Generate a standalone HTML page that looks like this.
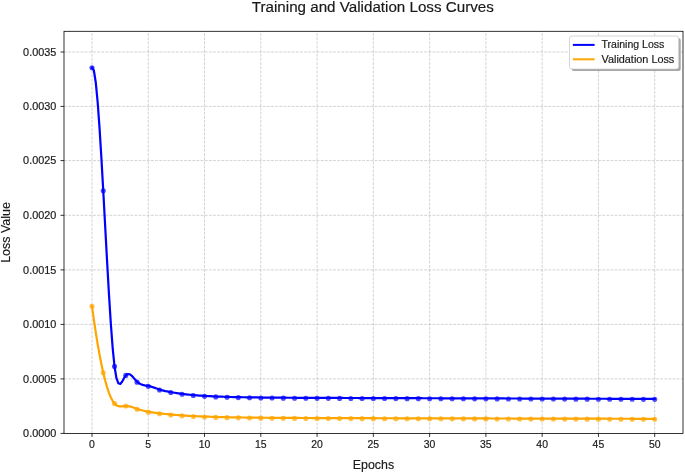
<!DOCTYPE html><html><head><meta charset="utf-8"><style>html,body{margin:0;padding:0;background:#fff;}svg{display:block;}text{font-family:"Liberation Sans",sans-serif;fill:#1a1a1a;stroke:#1a1a1a;stroke-width:0.18px;}svg{will-change:transform;}</style></head><body>
<svg width="685" height="472" viewBox="0 0 685 472">
<rect width="685" height="472" fill="#fff"/>
<g stroke="#b0b0b0" stroke-opacity="0.7" stroke-width="0.8" stroke-dasharray="2.89 1.25" fill="none"><line x1="92.00" y1="433.4" x2="92.00" y2="31.3"/><line x1="148.27" y1="433.4" x2="148.27" y2="31.3"/><line x1="204.54" y1="433.4" x2="204.54" y2="31.3"/><line x1="260.81" y1="433.4" x2="260.81" y2="31.3"/><line x1="317.08" y1="433.4" x2="317.08" y2="31.3"/><line x1="373.35" y1="433.4" x2="373.35" y2="31.3"/><line x1="429.62" y1="433.4" x2="429.62" y2="31.3"/><line x1="485.89" y1="433.4" x2="485.89" y2="31.3"/><line x1="542.16" y1="433.4" x2="542.16" y2="31.3"/><line x1="598.43" y1="433.4" x2="598.43" y2="31.3"/><line x1="654.70" y1="433.4" x2="654.70" y2="31.3"/><line x1="64.0" y1="378.9" x2="683.0" y2="378.9"/><line x1="64.0" y1="324.4" x2="683.0" y2="324.4"/><line x1="64.0" y1="269.9" x2="683.0" y2="269.9"/><line x1="64.0" y1="215.3" x2="683.0" y2="215.3"/><line x1="64.0" y1="160.6" x2="683.0" y2="160.6"/><line x1="64.0" y1="106.4" x2="683.0" y2="106.4"/><line x1="64.0" y1="52.0" x2="683.0" y2="52.0"/></g>
<g fill="#0000ff" fill-opacity="0.7"><circle cx="92.00" cy="67.70" r="2.55"/><circle cx="103.25" cy="190.85" r="2.55"/><circle cx="114.51" cy="366.40" r="2.55"/><circle cx="125.76" cy="375.40" r="2.55"/><circle cx="137.02" cy="382.15" r="2.55"/><circle cx="148.27" cy="386.35" r="2.55"/><circle cx="159.52" cy="389.97" r="2.55"/><circle cx="170.78" cy="392.54" r="2.55"/><circle cx="182.03" cy="394.30" r="2.55"/><circle cx="193.29" cy="395.50" r="2.55"/><circle cx="204.54" cy="396.33" r="2.55"/><circle cx="215.79" cy="396.91" r="2.55"/><circle cx="227.05" cy="397.31" r="2.55"/><circle cx="238.30" cy="397.60" r="2.55"/><circle cx="249.56" cy="397.80" r="2.55"/><circle cx="260.81" cy="397.95" r="2.55"/><circle cx="272.06" cy="398.06" r="2.55"/><circle cx="283.32" cy="398.15" r="2.55"/><circle cx="294.57" cy="398.22" r="2.55"/><circle cx="305.83" cy="398.28" r="2.55"/><circle cx="317.08" cy="398.33" r="2.55"/><circle cx="328.33" cy="398.37" r="2.55"/><circle cx="339.59" cy="398.41" r="2.55"/><circle cx="350.84" cy="398.45" r="2.55"/><circle cx="362.10" cy="398.49" r="2.55"/><circle cx="373.35" cy="398.53" r="2.55"/><circle cx="384.60" cy="398.56" r="2.55"/><circle cx="395.86" cy="398.60" r="2.55"/><circle cx="407.11" cy="398.63" r="2.55"/><circle cx="418.37" cy="398.66" r="2.55"/><circle cx="429.62" cy="398.70" r="2.55"/><circle cx="440.87" cy="398.73" r="2.55"/><circle cx="452.13" cy="398.77" r="2.55"/><circle cx="463.38" cy="398.80" r="2.55"/><circle cx="474.64" cy="398.83" r="2.55"/><circle cx="485.89" cy="398.87" r="2.55"/><circle cx="497.14" cy="398.90" r="2.55"/><circle cx="508.40" cy="398.93" r="2.55"/><circle cx="519.65" cy="398.97" r="2.55"/><circle cx="530.91" cy="399.00" r="2.55"/><circle cx="542.16" cy="399.03" r="2.55"/><circle cx="553.41" cy="399.07" r="2.55"/><circle cx="564.67" cy="399.10" r="2.55"/><circle cx="575.92" cy="399.13" r="2.55"/><circle cx="587.18" cy="399.17" r="2.55"/><circle cx="598.43" cy="399.20" r="2.55"/><circle cx="609.68" cy="399.23" r="2.55"/><circle cx="620.94" cy="399.27" r="2.55"/><circle cx="632.19" cy="399.30" r="2.55"/><circle cx="643.45" cy="399.33" r="2.55"/><circle cx="654.70" cy="399.37" r="2.55"/></g>
<polyline points="92.00,67.70 93.88,70.47 95.76,82.46 97.65,102.13 99.53,127.90 101.41,158.22 103.29,191.54 105.17,226.29 107.06,260.91 108.94,293.85 110.82,323.55 112.70,348.46 114.58,367.00 116.47,378.23 118.35,383.32 120.23,383.92 122.11,381.67 123.99,378.24 125.87,375.26 127.76,373.98 129.64,374.23 131.52,375.59 133.40,377.60 135.28,379.83 137.17,381.84 139.05,383.31 140.93,384.29 142.81,384.91 144.69,385.30 146.58,385.60 148.46,385.94 150.34,386.40 152.22,386.97 154.10,387.62 155.99,388.29 157.87,388.96 159.75,389.59 161.63,390.14 163.51,390.62 165.40,391.06 167.28,391.44 169.16,391.80 171.04,392.13 172.92,392.46 174.81,392.77 176.69,393.07 178.57,393.36 180.45,393.63 182.33,393.89 184.22,394.12 186.10,394.34 187.98,394.55 189.86,394.74 191.74,394.92 193.62,395.08 195.51,395.24 197.39,395.39 199.27,395.53 201.15,395.67 203.03,395.79 204.92,395.91 206.80,396.02 208.68,396.12 210.56,396.22 212.44,396.31 214.33,396.40 216.21,396.48 218.09,396.55 219.97,396.63 221.85,396.69 223.74,396.76 225.62,396.82 227.50,396.88 229.38,396.93 231.26,396.98 233.15,397.03 235.03,397.07 236.91,397.12 238.79,397.16 240.67,397.20 242.56,397.23 244.44,397.27 246.32,397.30 248.20,397.33 250.08,397.36 251.96,397.39 253.85,397.41 255.73,397.44 257.61,397.46 259.49,397.48 261.37,397.51 263.26,397.53 265.14,397.55 267.02,397.57 268.90,397.58 270.78,397.60 272.67,397.62 274.55,397.63 276.43,397.65 278.31,397.66 280.19,397.68 282.08,397.69 283.96,397.70 285.84,397.72 287.72,397.73 289.60,397.74 291.49,397.75 293.37,397.76 295.25,397.77 297.13,397.78 299.01,397.79 300.90,397.80 302.78,397.81 304.66,397.82 306.54,397.83 308.42,397.84 310.31,397.85 312.19,397.86 314.07,397.87 315.95,397.87 317.83,397.88 319.71,397.89 321.60,397.90 323.48,397.90 325.36,397.91 327.24,397.92 329.12,397.93 331.01,397.93 332.89,397.94 334.77,397.95 336.65,397.95 338.53,397.96 340.42,397.97 342.30,397.97 344.18,397.98 346.06,397.99 347.94,397.99 349.83,398.00 351.71,398.01 353.59,398.01 355.47,398.02 357.35,398.02 359.24,398.03 361.12,398.04 363.00,398.04 364.88,398.05 366.76,398.06 368.65,398.06 370.53,398.07 372.41,398.07 374.29,398.08 376.17,398.08 378.05,398.09 379.94,398.10 381.82,398.10 383.70,398.11 385.58,398.11 387.46,398.12 389.35,398.13 391.23,398.13 393.11,398.14 394.99,398.14 396.87,398.15 398.76,398.15 400.64,398.16 402.52,398.17 404.40,398.17 406.28,398.18 408.17,398.18 410.05,398.19 411.93,398.19 413.81,398.20 415.69,398.21 417.58,398.21 419.46,398.22 421.34,398.22 423.22,398.23 425.10,398.23 426.99,398.24 428.87,398.25 430.75,398.25 432.63,398.26 434.51,398.26 436.39,398.27 438.28,398.27 440.16,398.28 442.04,398.28 443.92,398.29 445.80,398.30 447.69,398.30 449.57,398.31 451.45,398.31 453.33,398.32 455.21,398.32 457.10,398.33 458.98,398.34 460.86,398.34 462.74,398.35 464.62,398.35 466.51,398.36 468.39,398.36 470.27,398.37 472.15,398.37 474.03,398.38 475.92,398.39 477.80,398.39 479.68,398.40 481.56,398.40 483.44,398.41 485.33,398.41 487.21,398.42 489.09,398.43 490.97,398.43 492.85,398.44 494.74,398.44 496.62,398.45 498.50,398.45 500.38,398.46 502.26,398.46 504.14,398.47 506.03,398.48 507.91,398.48 509.79,398.49 511.67,398.49 513.55,398.50 515.44,398.50 517.32,398.51 519.20,398.51 521.08,398.52 522.96,398.53 524.85,398.53 526.73,398.54 528.61,398.54 530.49,398.55 532.37,398.55 534.26,398.56 536.14,398.57 538.02,398.57 539.90,398.58 541.78,398.58 543.67,398.59 545.55,398.59 547.43,398.60 549.31,398.60 551.19,398.61 553.08,398.62 554.96,398.62 556.84,398.63 558.72,398.63 560.60,398.64 562.48,398.64 564.37,398.65 566.25,398.65 568.13,398.66 570.01,398.67 571.89,398.67 573.78,398.68 575.66,398.68 577.54,398.69 579.42,398.69 581.30,398.70 583.19,398.71 585.07,398.71 586.95,398.72 588.83,398.72 590.71,398.73 592.60,398.73 594.48,398.74 596.36,398.74 598.24,398.75 600.12,398.76 602.01,398.76 603.89,398.77 605.77,398.77 607.65,398.78 609.53,398.78 611.42,398.79 613.30,398.79 615.18,398.80 617.06,398.81 618.94,398.81 620.83,398.82 622.71,398.82 624.59,398.83 626.47,398.83 628.35,398.84 630.23,398.85 632.12,398.85 634.00,398.86 635.88,398.86 637.76,398.87 639.64,398.87 641.53,398.88 643.41,398.88 645.29,398.89 647.17,398.90 649.05,398.90 650.94,398.91 652.82,398.91 654.70,398.92" fill="none" stroke="#0000ff" stroke-width="2.2" stroke-linejoin="round" stroke-linecap="square"/>
<g fill="#ffa500" fill-opacity="0.7"><circle cx="92.00" cy="306.30" r="2.55"/><circle cx="103.25" cy="372.70" r="2.55"/><circle cx="114.51" cy="403.60" r="2.55"/><circle cx="125.76" cy="406.00" r="2.55"/><circle cx="137.02" cy="409.25" r="2.55"/><circle cx="148.27" cy="412.15" r="2.55"/><circle cx="159.52" cy="413.76" r="2.55"/><circle cx="170.78" cy="414.96" r="2.55"/><circle cx="182.03" cy="415.86" r="2.55"/><circle cx="193.29" cy="416.52" r="2.55"/><circle cx="204.54" cy="417.01" r="2.55"/><circle cx="215.79" cy="417.38" r="2.55"/><circle cx="227.05" cy="417.66" r="2.55"/><circle cx="238.30" cy="417.87" r="2.55"/><circle cx="249.56" cy="418.03" r="2.55"/><circle cx="260.81" cy="418.16" r="2.55"/><circle cx="272.06" cy="418.26" r="2.55"/><circle cx="283.32" cy="418.34" r="2.55"/><circle cx="294.57" cy="418.40" r="2.55"/><circle cx="305.83" cy="418.45" r="2.55"/><circle cx="317.08" cy="418.50" r="2.55"/><circle cx="328.33" cy="418.54" r="2.55"/><circle cx="339.59" cy="418.57" r="2.55"/><circle cx="350.84" cy="418.61" r="2.55"/><circle cx="362.10" cy="418.64" r="2.55"/><circle cx="373.35" cy="418.67" r="2.55"/><circle cx="384.60" cy="418.69" r="2.55"/><circle cx="395.86" cy="418.72" r="2.55"/><circle cx="407.11" cy="418.75" r="2.55"/><circle cx="418.37" cy="418.77" r="2.55"/><circle cx="429.62" cy="418.80" r="2.55"/><circle cx="440.87" cy="418.82" r="2.55"/><circle cx="452.13" cy="418.84" r="2.55"/><circle cx="463.38" cy="418.87" r="2.55"/><circle cx="474.64" cy="418.89" r="2.55"/><circle cx="485.89" cy="418.92" r="2.55"/><circle cx="497.14" cy="418.94" r="2.55"/><circle cx="508.40" cy="418.97" r="2.55"/><circle cx="519.65" cy="418.99" r="2.55"/><circle cx="530.91" cy="419.01" r="2.55"/><circle cx="542.16" cy="419.04" r="2.55"/><circle cx="553.41" cy="419.06" r="2.55"/><circle cx="564.67" cy="419.08" r="2.55"/><circle cx="575.92" cy="419.11" r="2.55"/><circle cx="587.18" cy="419.13" r="2.55"/><circle cx="598.43" cy="419.16" r="2.55"/><circle cx="609.68" cy="419.18" r="2.55"/><circle cx="620.94" cy="419.20" r="2.55"/><circle cx="632.19" cy="419.23" r="2.55"/><circle cx="643.45" cy="419.25" r="2.55"/><circle cx="654.70" cy="419.28" r="2.55"/></g>
<polyline points="92.00,306.30 93.88,319.84 95.76,332.40 97.65,343.99 99.53,354.60 101.41,364.23 103.29,372.86 105.17,380.51 107.06,387.15 108.94,392.80 110.82,397.44 112.70,401.07 114.58,403.69 116.47,405.32 118.35,406.17 120.23,406.44 122.11,406.36 123.99,406.14 125.87,406.00 127.76,406.10 129.64,406.43 131.52,406.93 133.40,407.54 135.28,408.20 137.17,408.85 139.05,409.46 140.93,410.01 142.81,410.51 144.69,410.96 146.58,411.37 148.46,411.73 150.34,412.06 152.22,412.36 154.10,412.63 155.99,412.88 157.87,413.11 159.75,413.33 161.63,413.55 163.51,413.76 165.40,413.97 167.28,414.17 169.16,414.36 171.04,414.54 172.92,414.71 174.81,414.87 176.69,415.02 178.57,415.16 180.45,415.30 182.33,415.43 184.22,415.55 186.10,415.67 187.98,415.78 189.86,415.89 191.74,415.99 193.62,416.09 195.51,416.18 197.39,416.27 199.27,416.35 201.15,416.43 203.03,416.51 204.92,416.58 206.80,416.65 208.68,416.71 210.56,416.77 212.44,416.83 214.33,416.89 216.21,416.95 218.09,417.00 219.97,417.05 221.85,417.09 223.74,417.14 225.62,417.18 227.50,417.22 229.38,417.26 231.26,417.30 233.15,417.33 235.03,417.37 236.91,417.40 238.79,417.43 240.67,417.46 242.56,417.49 244.44,417.52 246.32,417.54 248.20,417.57 250.08,417.59 251.96,417.61 253.85,417.64 255.73,417.66 257.61,417.68 259.49,417.70 261.37,417.71 263.26,417.73 265.14,417.75 267.02,417.77 268.90,417.78 270.78,417.80 272.67,417.81 274.55,417.83 276.43,417.84 278.31,417.85 280.19,417.87 282.08,417.88 283.96,417.89 285.84,417.90 287.72,417.91 289.60,417.92 291.49,417.93 293.37,417.94 295.25,417.95 297.13,417.96 299.01,417.97 300.90,417.98 302.78,417.99 304.66,418.00 306.54,418.01 308.42,418.01 310.31,418.02 312.19,418.03 314.07,418.04 315.95,418.05 317.83,418.05 319.71,418.06 321.60,418.07 323.48,418.07 325.36,418.08 327.24,418.09 329.12,418.09 331.01,418.10 332.89,418.10 334.77,418.11 336.65,418.12 338.53,418.12 340.42,418.13 342.30,418.13 344.18,418.14 346.06,418.14 347.94,418.15 349.83,418.15 351.71,418.16 353.59,418.17 355.47,418.17 357.35,418.18 359.24,418.18 361.12,418.19 363.00,418.19 364.88,418.19 366.76,418.20 368.65,418.20 370.53,418.21 372.41,418.21 374.29,418.22 376.17,418.22 378.05,418.23 379.94,418.23 381.82,418.24 383.70,418.24 385.58,418.25 387.46,418.25 389.35,418.25 391.23,418.26 393.11,418.26 394.99,418.27 396.87,418.27 398.76,418.28 400.64,418.28 402.52,418.29 404.40,418.29 406.28,418.29 408.17,418.30 410.05,418.30 411.93,418.31 413.81,418.31 415.69,418.31 417.58,418.32 419.46,418.32 421.34,418.33 423.22,418.33 425.10,418.34 426.99,418.34 428.87,418.34 430.75,418.35 432.63,418.35 434.51,418.36 436.39,418.36 438.28,418.36 440.16,418.37 442.04,418.37 443.92,418.38 445.80,418.38 447.69,418.39 449.57,418.39 451.45,418.39 453.33,418.40 455.21,418.40 457.10,418.41 458.98,418.41 460.86,418.41 462.74,418.42 464.62,418.42 466.51,418.43 468.39,418.43 470.27,418.43 472.15,418.44 474.03,418.44 475.92,418.45 477.80,418.45 479.68,418.45 481.56,418.46 483.44,418.46 485.33,418.47 487.21,418.47 489.09,418.47 490.97,418.48 492.85,418.48 494.74,418.49 496.62,418.49 498.50,418.49 500.38,418.50 502.26,418.50 504.14,418.51 506.03,418.51 507.91,418.51 509.79,418.52 511.67,418.52 513.55,418.53 515.44,418.53 517.32,418.53 519.20,418.54 521.08,418.54 522.96,418.55 524.85,418.55 526.73,418.55 528.61,418.56 530.49,418.56 532.37,418.57 534.26,418.57 536.14,418.57 538.02,418.58 539.90,418.58 541.78,418.59 543.67,418.59 545.55,418.59 547.43,418.60 549.31,418.60 551.19,418.61 553.08,418.61 554.96,418.61 556.84,418.62 558.72,418.62 560.60,418.63 562.48,418.63 564.37,418.63 566.25,418.64 568.13,418.64 570.01,418.65 571.89,418.65 573.78,418.65 575.66,418.66 577.54,418.66 579.42,418.67 581.30,418.67 583.19,418.67 585.07,418.68 586.95,418.68 588.83,418.69 590.71,418.69 592.60,418.69 594.48,418.70 596.36,418.70 598.24,418.71 600.12,418.71 602.01,418.71 603.89,418.72 605.77,418.72 607.65,418.73 609.53,418.73 611.42,418.73 613.30,418.74 615.18,418.74 617.06,418.75 618.94,418.75 620.83,418.75 622.71,418.76 624.59,418.76 626.47,418.77 628.35,418.77 630.23,418.77 632.12,418.78 634.00,418.78 635.88,418.79 637.76,418.79 639.64,418.79 641.53,418.80 643.41,418.80 645.29,418.81 647.17,418.81 649.05,418.81 650.94,418.82 652.82,418.82 654.70,418.83" fill="none" stroke="#ffa500" stroke-width="2.2" stroke-linejoin="round" stroke-linecap="square"/>
<rect x="64.0" y="31.3" width="619.0" height="402.09999999999997" fill="none" stroke="#000" stroke-width="0.8"/>
<g stroke="#000" stroke-width="0.8"><line x1="92.00" y1="433.4" x2="92.00" y2="436.9"/><line x1="148.27" y1="433.4" x2="148.27" y2="436.9"/><line x1="204.54" y1="433.4" x2="204.54" y2="436.9"/><line x1="260.81" y1="433.4" x2="260.81" y2="436.9"/><line x1="317.08" y1="433.4" x2="317.08" y2="436.9"/><line x1="373.35" y1="433.4" x2="373.35" y2="436.9"/><line x1="429.62" y1="433.4" x2="429.62" y2="436.9"/><line x1="485.89" y1="433.4" x2="485.89" y2="436.9"/><line x1="542.16" y1="433.4" x2="542.16" y2="436.9"/><line x1="598.43" y1="433.4" x2="598.43" y2="436.9"/><line x1="654.70" y1="433.4" x2="654.70" y2="436.9"/><line x1="60.5" y1="433.4" x2="64.0" y2="433.4"/><line x1="60.5" y1="378.9" x2="64.0" y2="378.9"/><line x1="60.5" y1="324.4" x2="64.0" y2="324.4"/><line x1="60.5" y1="269.9" x2="64.0" y2="269.9"/><line x1="60.5" y1="215.3" x2="64.0" y2="215.3"/><line x1="60.5" y1="160.6" x2="64.0" y2="160.6"/><line x1="60.5" y1="106.4" x2="64.0" y2="106.4"/><line x1="60.5" y1="52.0" x2="64.0" y2="52.0"/></g>
<text x="56.3" y="437.15" text-anchor="end" font-size="10.2" textLength="33.2" lengthAdjust="spacingAndGlyphs">0.0000</text>
<text x="56.3" y="382.65" text-anchor="end" font-size="10.2" textLength="33.2" lengthAdjust="spacingAndGlyphs">0.0005</text>
<text x="56.3" y="328.15" text-anchor="end" font-size="10.2" textLength="33.2" lengthAdjust="spacingAndGlyphs">0.0010</text>
<text x="56.3" y="273.65" text-anchor="end" font-size="10.2" textLength="33.2" lengthAdjust="spacingAndGlyphs">0.0015</text>
<text x="56.3" y="219.05" text-anchor="end" font-size="10.2" textLength="33.2" lengthAdjust="spacingAndGlyphs">0.0020</text>
<text x="56.3" y="164.35" text-anchor="end" font-size="10.2" textLength="33.2" lengthAdjust="spacingAndGlyphs">0.0025</text>
<text x="56.3" y="110.15" text-anchor="end" font-size="10.2" textLength="33.2" lengthAdjust="spacingAndGlyphs">0.0030</text>
<text x="56.3" y="55.75" text-anchor="end" font-size="10.2" textLength="33.2" lengthAdjust="spacingAndGlyphs">0.0035</text>
<text x="92.00" y="447.9" text-anchor="middle" font-size="10.3" textLength="5.8" lengthAdjust="spacingAndGlyphs">0</text>
<text x="148.27" y="447.9" text-anchor="middle" font-size="10.3" textLength="5.8" lengthAdjust="spacingAndGlyphs">5</text>
<text x="204.54" y="447.9" text-anchor="middle" font-size="10.3" textLength="11.6" lengthAdjust="spacingAndGlyphs">10</text>
<text x="260.81" y="447.9" text-anchor="middle" font-size="10.3" textLength="11.6" lengthAdjust="spacingAndGlyphs">15</text>
<text x="317.08" y="447.9" text-anchor="middle" font-size="10.3" textLength="11.6" lengthAdjust="spacingAndGlyphs">20</text>
<text x="373.35" y="447.9" text-anchor="middle" font-size="10.3" textLength="11.6" lengthAdjust="spacingAndGlyphs">25</text>
<text x="429.62" y="447.9" text-anchor="middle" font-size="10.3" textLength="11.6" lengthAdjust="spacingAndGlyphs">30</text>
<text x="485.89" y="447.9" text-anchor="middle" font-size="10.3" textLength="11.6" lengthAdjust="spacingAndGlyphs">35</text>
<text x="542.16" y="447.9" text-anchor="middle" font-size="10.3" textLength="11.6" lengthAdjust="spacingAndGlyphs">40</text>
<text x="598.43" y="447.9" text-anchor="middle" font-size="10.3" textLength="11.6" lengthAdjust="spacingAndGlyphs">45</text>
<text x="654.70" y="447.9" text-anchor="middle" font-size="10.3" textLength="11.6" lengthAdjust="spacingAndGlyphs">50</text>
<text x="373.5" y="468.7" text-anchor="middle" font-size="12.9" textLength="41.3" lengthAdjust="spacingAndGlyphs">Epochs</text>
<text transform="translate(10.2,232.5) rotate(-90)" x="0" y="0" text-anchor="middle" font-size="12.9" textLength="60.6" lengthAdjust="spacingAndGlyphs">Loss Value</text>
<text x="372.8" y="12.0" text-anchor="middle" font-size="15.2" textLength="242" lengthAdjust="spacingAndGlyphs">Training and Validation Loss Curves</text>
<rect x="571.5" y="38" width="109.2" height="33" rx="2.5" fill="#7f7f7f" fill-opacity="0.7"/>
<rect x="569.5" y="36" width="109.2" height="33" rx="2.5" fill="#fff" stroke="#cccccc" stroke-width="0.8"/>
<line x1="572.9" y1="44.9" x2="594.6" y2="44.9" stroke="#0000ff" stroke-width="2"/>
<line x1="572.9" y1="59.3" x2="594.6" y2="59.3" stroke="#ffa500" stroke-width="2"/>
<text x="601.5" y="48.2" font-size="10.6" textLength="62.8" lengthAdjust="spacingAndGlyphs">Training Loss</text>
<text x="601.5" y="62.9" font-size="10.6" textLength="72.8" lengthAdjust="spacingAndGlyphs">Validation Loss</text>
</svg></body></html>
